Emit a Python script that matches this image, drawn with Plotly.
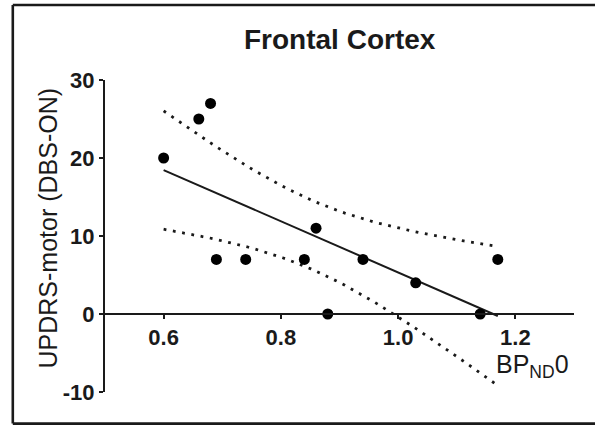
import numpy as np
import plotly.graph_objects as go

# ---- data ----
bp_nd0 = [0.60, 0.66, 0.68, 0.69, 0.74, 0.84, 0.86, 0.88, 0.94, 1.03, 1.14, 1.17]
updrs_motor = [20, 25, 27, 7, 7, 7, 11, 0, 7, 4, 0, 7]
x_ticks = [0.6, 0.8, 1.0, 1.2]
x_tick_labels = ["0.6", "0.8", "1.0", "1.2"]
y_ticks = [-10, 0, 10, 20, 30]
y_tick_labels = ["-10", "0", "10", "20", "30"]
title_text = "Frontal Cortex"
y_title = "UPDRS-motor (DBS-ON)"
x_title = "BP<sub>ND</sub>0"

# ---- linear regression with 95% confidence band ----
x = np.array(bp_nd0, dtype=float)
y = np.array(updrs_motor, dtype=float)
n = len(x)
slope, intercept = np.polyfit(x, y, 1)
resid = y - (slope * x + intercept)
s = np.sqrt(np.sum(resid ** 2) / (n - 2))
sxx = np.sum((x - x.mean()) ** 2)
t_crit = 2.228  # t(0.975, df=10)
xs = np.linspace(x.min(), x.max(), 60)
fit = slope * xs + intercept
half = t_crit * s * np.sqrt(1.0 / n + (xs - x.mean()) ** 2 / sxx)
upper = fit + half
lower = fit - half

FONT = "Liberation Sans, Arial, Helvetica, sans-serif"
INK = "#1a1a1a"

fig = go.Figure()
dot_line = dict(color=INK, width=2.8, dash="2.8px,6.6px")
fig.add_trace(go.Scatter(x=xs, y=upper, mode="lines", line=dot_line, hoverinfo="skip"))
fig.add_trace(go.Scatter(x=xs, y=lower, mode="lines", line=dot_line, hoverinfo="skip"))
fig.add_trace(go.Scatter(x=[xs[0], xs[-1]], y=[fit[0], fit[-1]], mode="lines",
                         line=dict(color=INK, width=2)))
fig.add_trace(go.Scatter(x=bp_nd0, y=updrs_motor, mode="markers",
                         marker=dict(color="#000000", size=11, line=dict(width=0))))

L, R, T, B = 105, 21, 80, 33
W, H = 595, 425
pw, ph = W - L - R, H - T - B


def px_x(p):
    return (p - L) / pw


def px_y(p):
    return (H - B - p) / ph


frame_line = dict(color=INK, width=2.6)
fl, fr, ft, fb = px_x(12.8), px_x(602), px_y(5.0), px_y(423.6)

fig.update_layout(
    width=W, height=H,
    margin=dict(l=L, r=R, t=T, b=B, pad=0),
    paper_bgcolor="white", plot_bgcolor="white",
    showlegend=False,
    font=dict(family=FONT, color=INK),
    xaxis=dict(
        range=[0.5, 1.3], anchor="free", position=10 / 40,
        showline=True, linecolor=INK, linewidth=2,
        ticks="outside", ticklen=4, tickwidth=2, tickcolor=INK,
        tickvals=x_ticks, ticktext=x_tick_labels,
        tickfont=dict(family=FONT, size=22, color=INK, weight="bold"),
        showgrid=False, zeroline=False,
    ),
    yaxis=dict(
        range=[-10, 30], domain=[0, 1],
        showline=True, linecolor=INK, linewidth=2,
        ticks="outside", ticklen=4, tickwidth=2, tickcolor=INK,
        tickvals=y_ticks, ticktext=y_tick_labels,
        tickfont=dict(family=FONT, size=22, color=INK, weight="bold"),
        showgrid=False, zeroline=False,
    ),
    shapes=[
        dict(type="line", xref="paper", yref="paper", x0=fl, x1=fr, y0=ft, y1=ft,
             line=frame_line, layer="above"),
        dict(type="line", xref="paper", yref="paper", x0=fl, x1=fr, y0=fb, y1=fb,
             line=frame_line, layer="above"),
        dict(type="line", xref="paper", yref="paper", x0=fl, x1=fl, y0=fb, y1=ft,
             line=frame_line, layer="above"),
    ],
    annotations=[
        dict(text=f"<b>{title_text}</b>", xref="paper", yref="paper",
             x=px_x(340), y=px_y(39), xanchor="center", yanchor="middle",
             showarrow=False, font=dict(family=FONT, size=28, color=INK)),
        dict(text=y_title, xref="paper", yref="paper", textangle=-90,
             x=px_x(47), y=px_y(228.5), xanchor="center", yanchor="middle",
             showarrow=False, font=dict(family=FONT, size=25, color=INK)),
        dict(text=x_title, xref="paper", yref="paper",
             x=px_x(571), y=px_y(366), xanchor="right", yanchor="middle",
             showarrow=False, font=dict(family=FONT, size=25, color=INK)),
    ],
)

fig.write_html("out.html", config={"displayModeBar": False},
               post_script="document.body.style.margin='0px';document.documentElement.style.overflow='hidden';")
